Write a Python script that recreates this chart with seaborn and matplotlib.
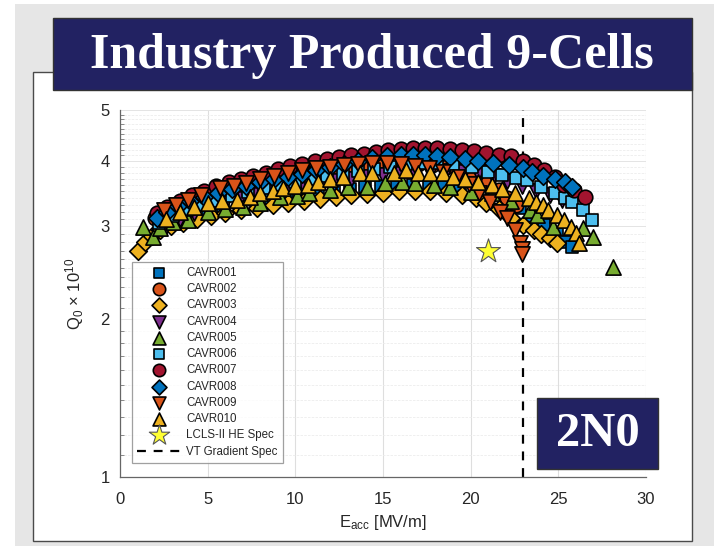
import matplotlib
matplotlib.use("Agg")
import matplotlib.pyplot as plt
from matplotlib.patches import Rectangle
from matplotlib.ticker import FixedLocator, NullFormatter, FixedFormatter
import seaborn as sns
import numpy as np
import pandas as pd

# ---------------- data ----------------
cav001_E = [2.5, 3.3, 4.1, 5.0, 5.9, 6.8, 7.7, 8.6, 9.5, 10.4, 11.3, 12.2, 13.1, 14.0, 14.9, 15.8, 16.7, 17.6, 18.5, 19.4, 20.3, 21.2, 22.0, 22.8, 23.5, 24.2, 24.9, 25.4, 25.8]
cav001_Q = [3.02, 3.10, 3.17, 3.23, 3.28, 3.33, 3.37, 3.40, 3.43, 3.46, 3.49, 3.52, 3.54, 3.56, 3.58, 3.59, 3.60, 3.60, 3.59, 3.57, 3.54, 3.48, 3.38, 3.26, 3.14, 3.02, 2.90, 2.80, 2.74]

cav002_E = [2.0, 2.7, 3.4, 4.2, 5.0, 5.8, 6.6, 7.4, 8.2, 9.0, 9.8, 10.6, 11.4, 12.2, 13.0, 13.8, 14.6, 15.4, 16.2, 17.0, 17.8, 18.6, 19.4, 20.2, 21.0, 21.6, 22.1, 22.6]
cav002_Q = [3.12, 3.22, 3.30, 3.38, 3.45, 3.52, 3.58, 3.63, 3.68, 3.72, 3.76, 3.80, 3.83, 3.86, 3.89, 3.91, 3.93, 3.94, 3.95, 3.94, 3.92, 3.89, 3.84, 3.76, 3.64, 3.52, 3.40, 3.30]

cav003_E = [1.0, 1.4, 1.8, 2.3, 2.9, 3.6, 4.4, 5.2, 6.0, 6.9, 7.8, 8.7, 9.6, 10.5, 11.4, 12.3, 13.2, 14.1, 15.0, 15.9, 16.8, 17.7, 18.6, 19.5, 20.3, 20.9, 21.6, 22.3, 23.0, 23.6, 24.0, 24.5, 24.9]
cav003_Q = [2.70, 2.80, 2.88, 2.95, 3.00, 3.05, 3.10, 3.14, 3.18, 3.22, 3.26, 3.29, 3.32, 3.35, 3.38, 3.41, 3.44, 3.46, 3.48, 3.50, 3.51, 3.50, 3.48, 3.45, 3.40, 3.33, 3.24, 3.12, 3.02, 2.95, 2.90, 2.85, 2.79]

cav004_E = [2.6, 3.4, 4.2, 5.1, 6.0, 6.9, 7.8, 8.7, 9.6, 10.5, 11.4, 12.3, 13.2, 14.1, 15.0, 15.9, 16.8, 17.7, 18.6, 19.5, 20.4, 21.3, 22.1, 22.9, 23.7, 24.5, 25.2]
cav004_Q = [3.00, 3.10, 3.18, 3.26, 3.33, 3.39, 3.45, 3.50, 3.55, 3.59, 3.63, 3.67, 3.70, 3.73, 3.76, 3.78, 3.80, 3.81, 3.82, 3.81, 3.79, 3.74, 3.66, 3.58, 3.51, 3.44, 3.37]

cav005_E = [1.3, 1.9, 2.3, 3.0, 3.9, 5.0, 6.0, 7.0, 8.0, 9.1, 10.1, 10.8, 12.0, 13.0, 14.1, 15.1, 16.1, 16.8, 17.9, 18.8, 20.0, 21.2, 22.3, 23.4, 23.8, 24.7, 26.4, 27.0, 28.1]
cav005_Q = [2.99, 2.86, 2.98, 3.06, 3.08, 3.20, 3.24, 3.27, 3.33, 3.41, 3.43, 3.47, 3.52, 3.57, 3.57, 3.63, 3.65, 3.63, 3.60, 3.57, 3.49, 3.47, 3.35, 3.22, 3.15, 2.99, 2.98, 2.86, 2.51]

cav006_E = [2.2, 3.0, 3.8, 4.6, 5.5, 6.4, 7.3, 8.2, 9.1, 10.0, 10.9, 11.8, 12.7, 13.6, 14.5, 15.4, 16.3, 17.2, 18.1, 19.0, 20.1, 21.0, 21.8, 22.6, 23.2, 24.0, 24.8, 25.4, 25.8, 26.4, 26.9]
cav006_Q = [3.05, 3.14, 3.22, 3.29, 3.36, 3.43, 3.49, 3.55, 3.60, 3.65, 3.70, 3.74, 3.78, 3.82, 3.86, 3.90, 3.95, 3.97, 3.96, 3.92, 3.90, 3.81, 3.76, 3.71, 3.68, 3.57, 3.48, 3.40, 3.34, 3.22, 3.09]

cav007_E = [2.1, 2.7, 3.4, 4.1, 4.8, 5.5, 6.2, 6.9, 7.6, 8.3, 9.0, 9.7, 10.4, 11.1, 11.8, 12.5, 13.2, 13.9, 14.6, 15.3, 16.0, 16.7, 17.4, 18.1, 18.8, 19.5, 20.2, 20.9, 21.6, 22.3, 23.0, 23.6, 24.2, 24.8, 25.3, 25.9, 26.5]
cav007_Q = [3.18, 3.27, 3.36, 3.44, 3.51, 3.58, 3.64, 3.70, 3.75, 3.80, 3.86, 3.91, 3.95, 3.99, 4.03, 4.07, 4.10, 4.13, 4.16, 4.19, 4.21, 4.23, 4.24, 4.23, 4.22, 4.20, 4.17, 4.14, 4.11, 4.08, 4.00, 3.92, 3.84, 3.72, 3.60, 3.52, 3.41]

cav008_E = [2.1, 2.7, 3.3, 4.0, 4.8, 5.6, 6.4, 7.2, 8.0, 8.8, 9.6, 10.4, 11.2, 12.0, 12.8, 13.6, 14.4, 15.2, 16.0, 16.7, 17.4, 18.1, 18.8, 19.7, 20.4, 21.3, 22.2, 23.0, 23.5, 24.1, 24.8, 25.4, 25.8]
cav008_Q = [3.12, 3.20, 3.28, 3.35, 3.42, 3.48, 3.54, 3.59, 3.64, 3.69, 3.73, 3.78, 3.84, 3.90, 3.95, 4.00, 4.05, 4.08, 4.10, 4.10, 4.10, 4.08, 4.06, 4.03, 4.00, 3.96, 3.93, 3.88, 3.81, 3.74, 3.69, 3.64, 3.56]

cav009_E = [2.5, 3.2, 3.9, 4.6, 5.7, 6.5, 7.2, 8.0, 8.8, 9.6, 10.4, 11.2, 12.0, 12.8, 13.6, 14.4, 15.2, 16.0, 16.8, 17.6, 18.4, 19.2, 19.9, 20.5, 21.1, 21.7, 22.1, 22.5, 22.8, 22.9, 22.95]
cav009_Q = [3.22, 3.30, 3.37, 3.44, 3.55, 3.59, 3.63, 3.69, 3.75, 3.80, 3.84, 3.87, 3.90, 3.93, 3.95, 3.96, 3.96, 3.94, 3.91, 3.87, 3.81, 3.73, 3.62, 3.47, 3.34, 3.19, 3.11, 2.95, 2.79, 2.72, 2.66]

cav010_E = [2.6, 3.4, 4.2, 5.0, 5.8, 6.7, 7.4, 8.0, 8.7, 9.3, 10.0, 10.7, 11.3, 12.0, 12.7, 13.7, 14.4, 15.6, 16.3, 17.0, 17.7, 18.4, 19.0, 19.7, 20.4, 21.2, 21.8, 22.5, 23.3, 23.7, 24.1, 24.4, 24.9, 25.3, 25.7, 26.0, 26.2]
cav010_Q = [3.10, 3.20, 3.27, 3.33, 3.35, 3.37, 3.42, 3.47, 3.51, 3.55, 3.58, 3.60, 3.65, 3.69, 3.73, 3.79, 3.80, 3.80, 3.84, 3.80, 3.80, 3.79, 3.73, 3.70, 3.64, 3.60, 3.54, 3.47, 3.40, 3.34, 3.29, 3.22, 3.15, 3.09, 2.99, 2.92, 2.79]

spec_E = [21.0]
spec_Q = [2.7]
vt_gradient = 23.0

names = ["CAVR001", "CAVR002", "CAVR003", "CAVR004", "CAVR005",
         "CAVR006", "CAVR007", "CAVR008", "CAVR009", "CAVR010"]
series_E = [cav001_E, cav002_E, cav003_E, cav004_E, cav005_E,
            cav006_E, cav007_E, cav008_E, cav009_E, cav010_E]
series_Q = [cav001_Q, cav002_Q, cav003_Q, cav004_Q, cav005_Q,
            cav006_Q, cav007_Q, cav008_Q, cav009_Q, cav010_Q]

x_ticks = [0, 5, 10, 15, 20, 25, 30]
y_ticks = [1, 2, 3, 4, 5]
y_tick_labels = ["1", "2", "3", "4", "5"]

# ---------------- style ----------------
colors = ["#0072BD", "#D95319", "#EDB120", "#7E2F8E", "#77AC30",
          "#4DBEEE", "#A2142F", "#0072BD", "#D95319", "#EDB120"]
markers = ["s", "o", "D", "v", "^", "s", "o", "D", "v", "^"]
sizes = [85, 110, 80, 120, 120, 85, 110, 80, 120, 120]

sns.set_theme(style="white")
plt.rcParams["font.family"] = ["Liberation Sans", "DejaVu Sans"]
plt.rcParams["mathtext.default"] = "regular"

W, H = 714, 546
fig = plt.figure(figsize=(W / 100, H / 100), dpi=100)
fig.patch.set_facecolor("white")

def fx(px):
    return px / W

def fy(py):
    return 1 - py / H

# background panels
fig.add_artist(Rectangle((fx(15), fy(546)), fx(714 - 15), (546 - 4) / H,
                         transform=fig.transFigure, facecolor="#e6e6e6",
                         edgecolor="none", zorder=-10))
fig.add_artist(Rectangle((fx(33), fy(541)), fx(692 - 33), (541 - 72) / H,
                         transform=fig.transFigure, facecolor="white",
                         edgecolor="#4a4a4a", linewidth=1.0, zorder=-9))

ax = fig.add_axes([fx(120), fy(477), fx(646 - 120), (477 - 110) / H])
ax.set_facecolor("white")

df = pd.DataFrame({
    "E": np.concatenate([np.array(e, float) for e in series_E]),
    "Q": np.concatenate([np.array(q, float) for q in series_Q]),
    "cav": np.concatenate([[n] * len(e) for n, e in zip(names, series_E)]),
})

for i, n in enumerate(names):
    sub = df[df["cav"] == n]
    sns.scatterplot(data=sub, x="E", y="Q", marker=markers[i], color=colors[i],
                    edgecolor="black", linewidth=1.2, s=sizes[i], ax=ax,
                    label=n, zorder=3 + i * 0.01)

sns.scatterplot(x=spec_E, y=spec_Q, marker="*", color="#FFFF33", edgecolor="#555555",
                linewidth=0.8, s=330, ax=ax, label="LCLS-II HE Spec", zorder=4)
ax.axvline(vt_gradient, color="black", linestyle=(0, (4, 3.5)), linewidth=1.6,
           label="VT Gradient Spec", zorder=2.5)

ax.set_yscale("log")
ax.set_xlim(0, 30)
ax.set_ylim(1, 5)
ax.yaxis.set_major_locator(FixedLocator(y_ticks))
ax.yaxis.set_major_formatter(FixedFormatter(y_tick_labels))
minor = [round(v, 2) for v in np.arange(1.1, 5.0, 0.1) if round(v, 2) not in y_ticks]
ax.yaxis.set_minor_locator(FixedLocator(minor))
ax.yaxis.set_minor_formatter(NullFormatter())
ax.set_xticks(x_ticks)

ax.grid(True, which="major", axis="x", color="#dedede", linewidth=0.8)
ax.grid(True, which="major", axis="y", color="#e4e4e4", linewidth=0.7)
ax.grid(True, which="minor", axis="y", color="#ececec", linewidth=0.6, linestyle=(0, (3, 1.5)))
ax.set_axisbelow(True)

for s in ["top", "right"]:
    ax.spines[s].set_visible(False)
for s in ["left", "bottom"]:
    ax.spines[s].set_color("#666666")
    ax.spines[s].set_linewidth(0.9)

ax.tick_params(axis="both", which="major", labelsize=12, colors="#262626",
               length=5, width=0.8)
ax.tick_params(axis="y", which="major", direction="inout", length=8, color="#666666")
ax.tick_params(axis="x", which="major", direction="out", color="#666666", pad=6)
ax.tick_params(axis="y", which="minor", direction="in", length=3, width=0.6,
               color="#777777", left=True)

ax.set_xlabel(r"E$_{acc}$ [MV/m]", fontsize=12, color="#262626", labelpad=4)
ax.set_ylabel(r"Q$_0$ $\times$ 10$^{10}$", fontsize=12, color="#262626", labelpad=10)

leg = ax.legend(loc="upper left", bbox_to_anchor=(0.023, 0.587), fontsize=8.3,
                frameon=True, fancybox=False, edgecolor="#888888",
                handlelength=3.7, handletextpad=0.55, labelspacing=0.37,
                borderpad=0.45, borderaxespad=0, markerscale=0.85)
leg.get_frame().set_linewidth(0.9)
for t in leg.get_texts():
    t.set_color("#262626")

# title banner
fig.add_artist(Rectangle((fx(53), fy(90)), fx(692 - 53), (90 - 18) / H,
                         transform=fig.transFigure, facecolor="#222262",
                         edgecolor="#333333", linewidth=1.0, zorder=5))
fig.text(fx(372), fy(56), "Industry Produced 9-Cells", color="white",
         fontsize=36, fontweight="bold", family=["Liberation Serif", "DejaVu Serif"],
         ha="center", va="center", zorder=6)

# 2N0 box
fig.add_artist(Rectangle((fx(537), fy(469)), fx(658 - 537), (469 - 398) / H,
                         transform=fig.transFigure, facecolor="#222262",
                         edgecolor="#333333", linewidth=1.0, zorder=5))
fig.text(fx(597.5), fy(434), "2N0", color="white", fontsize=35, fontweight="bold",
         family=["Liberation Serif", "DejaVu Serif"], ha="center", va="center", zorder=6)

fig.savefig("out.png", dpi=100)
